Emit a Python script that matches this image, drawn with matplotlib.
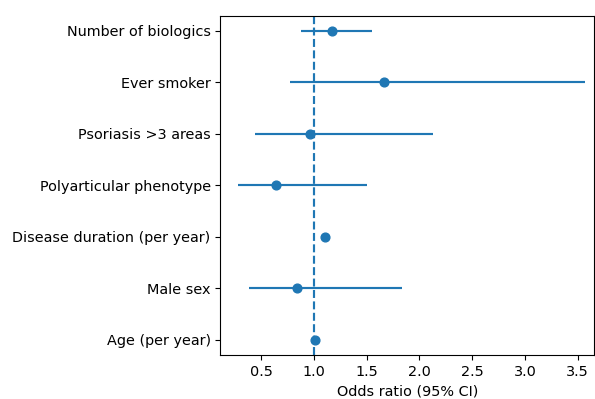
import matplotlib
matplotlib.use("Agg")
import matplotlib.pyplot as plt
import numpy as np

# Forest plot data (odds ratio, 95% CI), bottom to top
labels = [
    "Age (per year)",
    "Male sex",
    "Disease duration (per year)",
    "Polyarticular phenotype",
    "Psoriasis >3 areas",
    "Ever smoker",
    "Number of biologics",
]
odds_ratio = [1.01, 0.84, 1.10, 0.64, 0.96, 1.66, 1.17]
ci_low = [1.00, 0.38, 1.08, 0.28, 0.44, 0.77, 0.88]
ci_high = [1.02, 1.83, 1.12, 1.50, 2.13, 3.57, 1.55]

plt.rcParams["font.size"] = 10.4

or_arr = np.array(odds_ratio)
xerr = np.vstack([or_arr - np.array(ci_low), np.array(ci_high) - or_arr])
ypos = np.arange(len(labels))

fig = plt.figure(figsize=(5.95, 3.99), dpi=100)
ax = fig.add_axes([0.3705, 0.11, 0.628, 0.851])

ax.errorbar(or_arr, ypos, xerr=xerr, fmt="o", color="#1f77b4", markersize=6.3, elinewidth=1.55)
ax.axvline(1.0, color="#1f77b4", linestyle="--", linewidth=1.55)

ax.set_yticks(ypos)
ax.set_yticklabels(labels)
ax.set_xlim(0.112, 3.657)
ax.set_ylim(-0.3, 6.3)
ax.set_xticks([0.5, 1.0, 1.5, 2.0, 2.5, 3.0, 3.5])
ax.set_xlabel("Odds ratio (95% CI)")

fig.savefig("out.png", dpi=100)
